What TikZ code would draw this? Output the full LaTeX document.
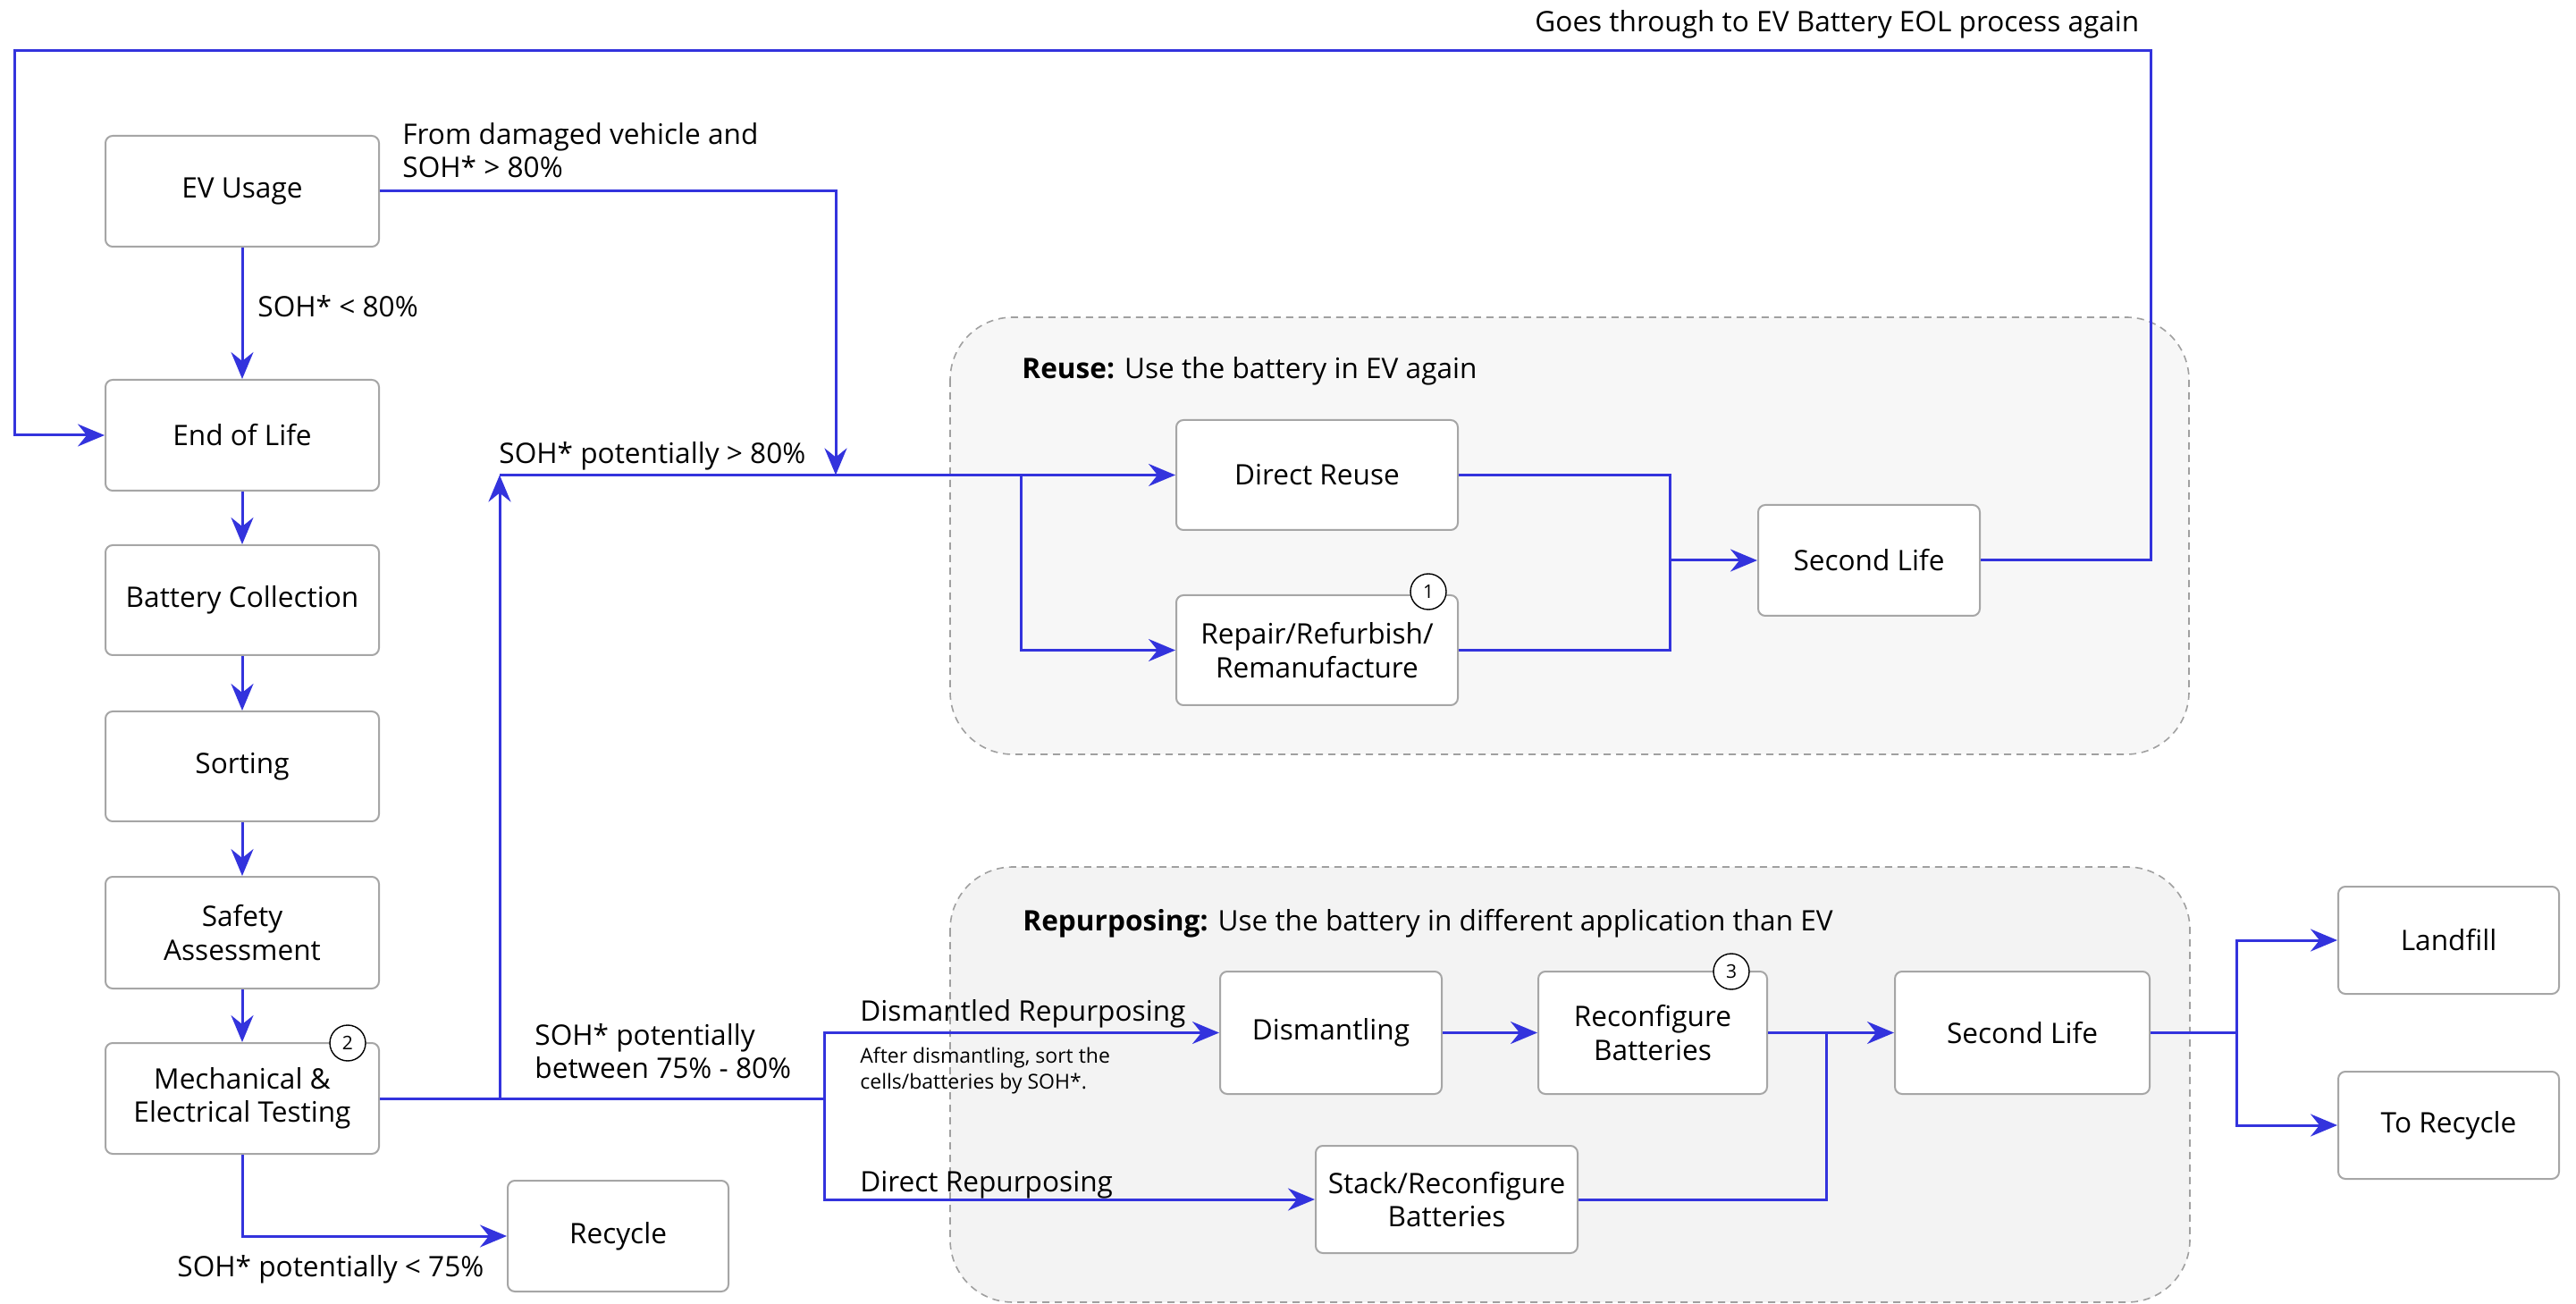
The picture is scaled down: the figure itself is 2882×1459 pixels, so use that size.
\documentclass[tikz,border=0pt]{standalone}
\usepackage{fontspec}
\setmainfont{Open Sans}
\usetikzlibrary{arrows.meta,calc}
\definecolor{flow}{HTML}{3333DD}
\definecolor{boxline}{HTML}{A6A6A6}
\definecolor{reusebg}{HTML}{F7F7F7}
\definecolor{repbg}{HTML}{F3F3F3}
\definecolor{dashc}{HTML}{A0A0A0}
\begin{document}
\begin{tikzpicture}[x=0.5pt,y=-0.5pt,
 every node/.style={font=\fontsize{15.8pt}{18.6pt}\selectfont, inner sep=0pt},
 box/.style={draw=boxline, line width=1pt, fill=white, rounded corners=4pt, align=center},
 lab/.style={anchor=west, align=left},
 flowline/.style={draw=flow, line width=1.5pt},
 arr/.style={flowline, -{Stealth[length=15pt,width=12.5pt,inset=5pt]}},
 badge/.style={circle, draw=black, line width=0.7pt, fill=white, minimum size=20pt, font=\fontsize{10.5pt}{13pt}\selectfont},
 group/.style={draw=dashc, dash pattern=on 4pt off 3pt, line width=0.8pt, rounded corners=35pt}
]
\useasboundingbox (0,0) rectangle (2882,1459);
% containers
\draw[group, fill=reusebg] (1063,355) rectangle (2449,844);
\draw[group, fill=repbg] (1063,970) rectangle (2450,1457);
\node[lab] (reusettl) at (1143,415) {\textbf{Reuse:} Use the battery in EV again};
\node[lab] (repttl) at (1144,1033) {\textbf{Repurposing:} Use the battery in different application than EV};

% boxes
\node[box, minimum width=153pt, minimum height=62pt] (ev) at (271,214) {EV Usage};
\node[box, minimum width=153pt, minimum height=62pt] (eol) at (271,487) {End of Life};
\node[box, minimum width=153pt, minimum height=61.5pt] (bc) at (271,671.5) {Battery Collection};
\node[box, minimum width=153pt, minimum height=61.5pt] (sort) at (271,857.5) {Sorting};
\node[box, minimum width=153pt, minimum height=62.5pt] (safety) at (271,1043.5) {Safety\\Assessment};
\node[box, minimum width=153pt, minimum height=62pt] (mech) at (271,1229) {Mechanical \&\\Electrical Testing};
\node[box, minimum width=123.5pt, minimum height=62pt] (recycle) at (691.5,1383) {Recycle};
\node[box, minimum width=157.5pt, minimum height=61.5pt] (dreuse) at (1473.5,531.5) {Direct Reuse};
\node[box, minimum width=157.5pt, minimum height=61.5pt] (repair) at (1473.5,727.5) {Repair/Refurbish/\\Remanufacture};
\node[box, minimum width=124pt, minimum height=62pt] (sl1) at (2091,627) {Second Life};
\node[box, minimum width=124pt, minimum height=68.5pt] (dism) at (1489,1155.5) {Dismantling};
\node[box, minimum width=128pt, minimum height=68.5pt] (reconf) at (1849,1155.5) {Reconfigure\\Batteries};
\node[box, minimum width=146.5pt, minimum height=60pt] (stack) at (1618.5,1342) {Stack/Reconfigure\\Batteries};
\node[box, minimum width=142.5pt, minimum height=68.5pt] (sl2) at (2262.5,1155.5) {Second Life};
\node[box, minimum width=123.5pt, minimum height=60pt] (landfill) at (2739.5,1052) {Landfill};
\node[box, minimum width=123.5pt, minimum height=60pt] (torec) at (2739.5,1259) {To Recycle};

% labels
\node[lab] (lgoes) at (1717,27) {Goes through to EV Battery EOL process again};
\node[lab] (ldam) at (450,168) {From damaged vehicle and\\SOH* > 80\%};
\node[lab] (llt80) at (288,343) {SOH* < 80\%};
\node[lab] (lgt80) at (558,510) {SOH* potentially > 80\%};
\node[lab] (lbetw) at (598,1176) {SOH* potentially\\between 75\% - 80\%};
\node[lab] (llt75) at (198,1420) {SOH* potentially < 75\%};
\node[lab] (ldism) at (962,1134) {Dismantled Repurposing};
\node[lab, font=\fontsize{11.5pt}{14.5pt}\selectfont] (lafter) at (962,1198) {After dismantling, sort the\\cells/batteries by SOH*.};
\node[lab] (ldir) at (962,1326) {Direct Repurposing};

% coordinates
\coordinate (up) at (559,531.5);
\coordinate (split1) at (1142,531.5);
\coordinate (jev) at (935,531.5);
\coordinate (m1) at (1868,627);
\coordinate (tr) at (2406,57);
\coordinate (tl) at (16,57);
\coordinate (split2) at (922,1229);
\coordinate (m2) at (2043,1155.5);
\coordinate (s3) at (2502,1155.5);

% left column
\draw[arr] (ev) -- (eol);
\draw[arr] (eol) -- (bc);
\draw[arr] (bc) -- (sort);
\draw[arr] (sort) -- (safety);
\draw[arr] (safety) -- (mech);
\draw[arr] (mech.south) |- (recycle.west);

% reuse branch
\draw[arr] (ev.east) -| (jev);
\draw[arr] (mech.east) -| (up);
\draw[flowline] (up) -- (split1);
\draw[arr] (split1) -- (dreuse.west);
\draw[arr] (split1) |- (repair.west);
\draw[flowline] (dreuse.east) -| (m1);
\draw[flowline] (repair.east) -| (m1);
\draw[arr] (m1) -- (sl1.west);
\draw[arr] (sl1.east) -| (tr) -- (tl) |- (eol.west);

% repurposing branch
\draw[flowline] (mech.east) -- (split2);
\draw[arr] (split2) |- (dism.west);
\draw[arr] (split2) |- (stack.west);
\draw[arr] (dism) -- (reconf);
\draw[arr] (reconf.east) -- (sl2.west);
\draw[flowline] (stack.east) -| (m2);
\draw[flowline] (sl2.east) -- (s3);
\draw[arr] (s3) |- (landfill.west);
\draw[arr] (s3) |- (torec.west);

% badges
\node[badge] (b1) at (1598,662) {1};
\node[badge] (b2) at (389,1167) {2};
\node[badge] (b3) at (1937,1087) {3};
\end{tikzpicture}
\end{document}
